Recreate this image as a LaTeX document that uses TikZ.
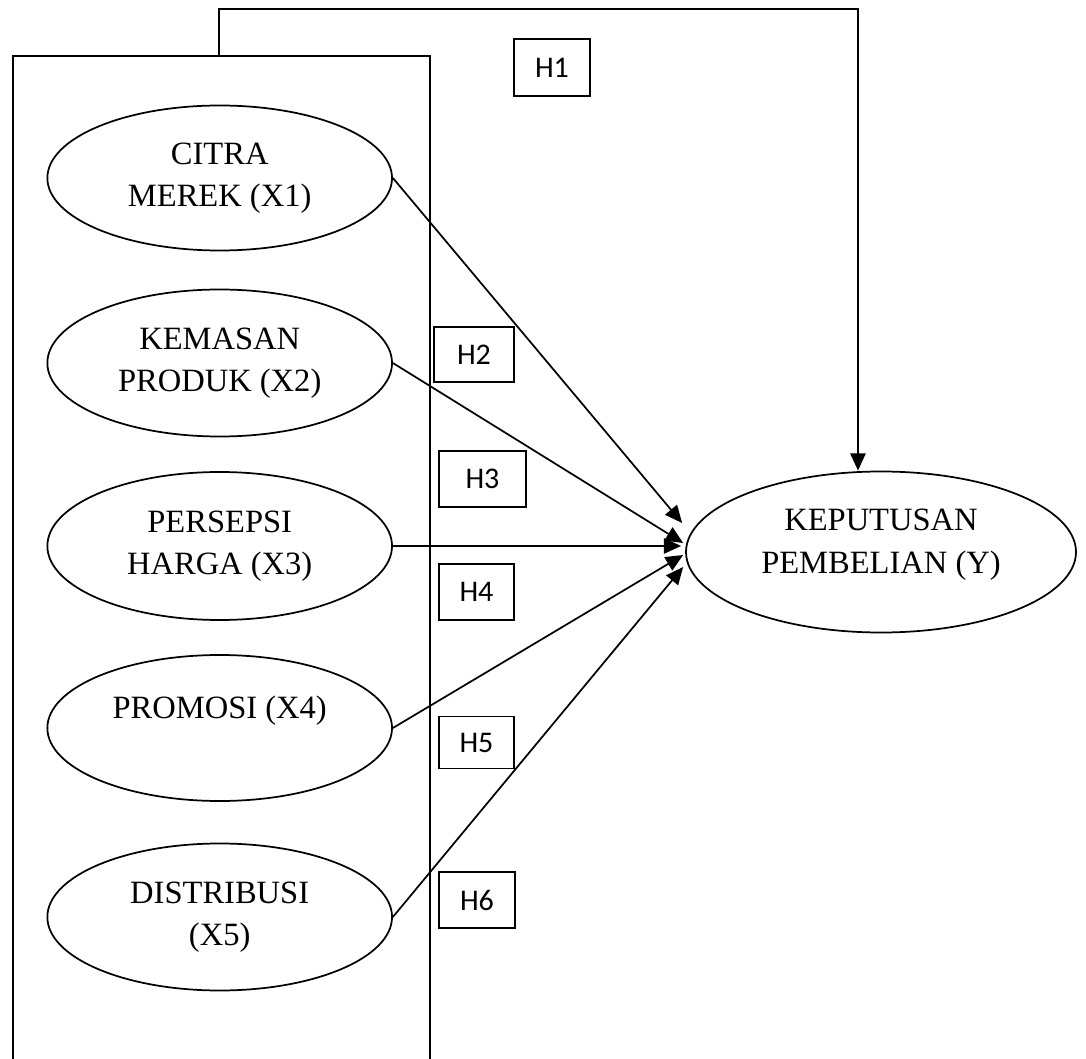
\documentclass[tikz,border=0pt]{standalone}
\usepackage{fontspec}
\setmainfont{Liberation Serif}
\newfontfamily\hfont{Carlito}
\usetikzlibrary{shapes.geometric,arrows.meta,calc}
\begin{document}
\begin{tikzpicture}[x=0.75pt,y=-0.75pt,
  var/.style={draw,ellipse,line width=1.3pt,inner sep=0pt,minimum width=258.5pt,align=center,
    font=\fontsize{24.4}{31.8}\selectfont},
  hyp/.style={draw,rectangle,line width=1.3pt,inner sep=0pt,
    font=\hfont\fontsize{22.5}{26}\selectfont},
  arr/.style={line width=1.3pt,-{Triangle[length=13pt,width=11.5pt]}}]
\useasboundingbox (0,0) rectangle (1086,1059);
% frame around the independent variables
\node[draw,line width=1.3pt,inner sep=0pt,minimum width=312.75pt,minimum height=760.5pt] (frame) at (221.5,563) {};
% independent variables
\node[var,minimum height=108.75pt] (x1) at (219.7,178) {CITRA\\MEREK (X1)};
\node[var,minimum height=110.25pt] (x2) at (219.7,363) {KEMASAN\\PRODUK (X2)};
\node[var,minimum height=111pt] (x3) at (219.7,546) {PERSEPSI\\HARGA (X3)};
\node[var,minimum height=109.5pt] (x4) at (219.7,728) {PROMOSI (X4)\\\mbox{}};
\node[var,minimum height=110.25pt] (x5) at (219.7,917) {DISTRIBUSI\\(X5)};
% dependent variable
\node[var,minimum width=292.5pt,minimum height=120.75pt,text depth=16pt] (y) at (881,552) {KEPUTUSAN\\PEMBELIAN (Y)};
% hypothesis labels
\node[hyp,minimum width=57pt,minimum height=42.75pt] (h1) at (552,67.5) {H1};
\node[hyp,minimum width=60pt,minimum height=41.25pt] (h2) at (474,354.5) {H2};
\node[hyp,minimum width=65.25pt,minimum height=42pt] (h3) at (482.5,479) {H3};
\node[hyp,minimum width=56.25pt,minimum height=42pt] (h4) at (476.5,592) {H4};
\node[hyp,minimum width=56.25pt,minimum height=39pt] (h5) at (476.5,742.5) {H5};
\node[hyp,minimum width=57pt,minimum height=42pt] (h6) at (477,900) {H6};
% connectors
\draw[arr] ([xshift=-1.9pt]frame.north) -- ++(0,-46) -| ([xshift=-17.25pt]y.north);
\draw[arr] (x1.east) -- ($(y.west)+(-3,-29)$);
\draw[arr] (x2.east) -- ($(y.west)+(-2,-9)$);
\draw[arr] (x3.east) -- ($(y.west)+(-4,-6)$);
\draw[arr] (x4.east) -- ($(y.west)+(-2,3)$);
\draw[arr] (x5.east) -- ($(y.west)+(-2,15)$);
\end{tikzpicture}
\end{document}
